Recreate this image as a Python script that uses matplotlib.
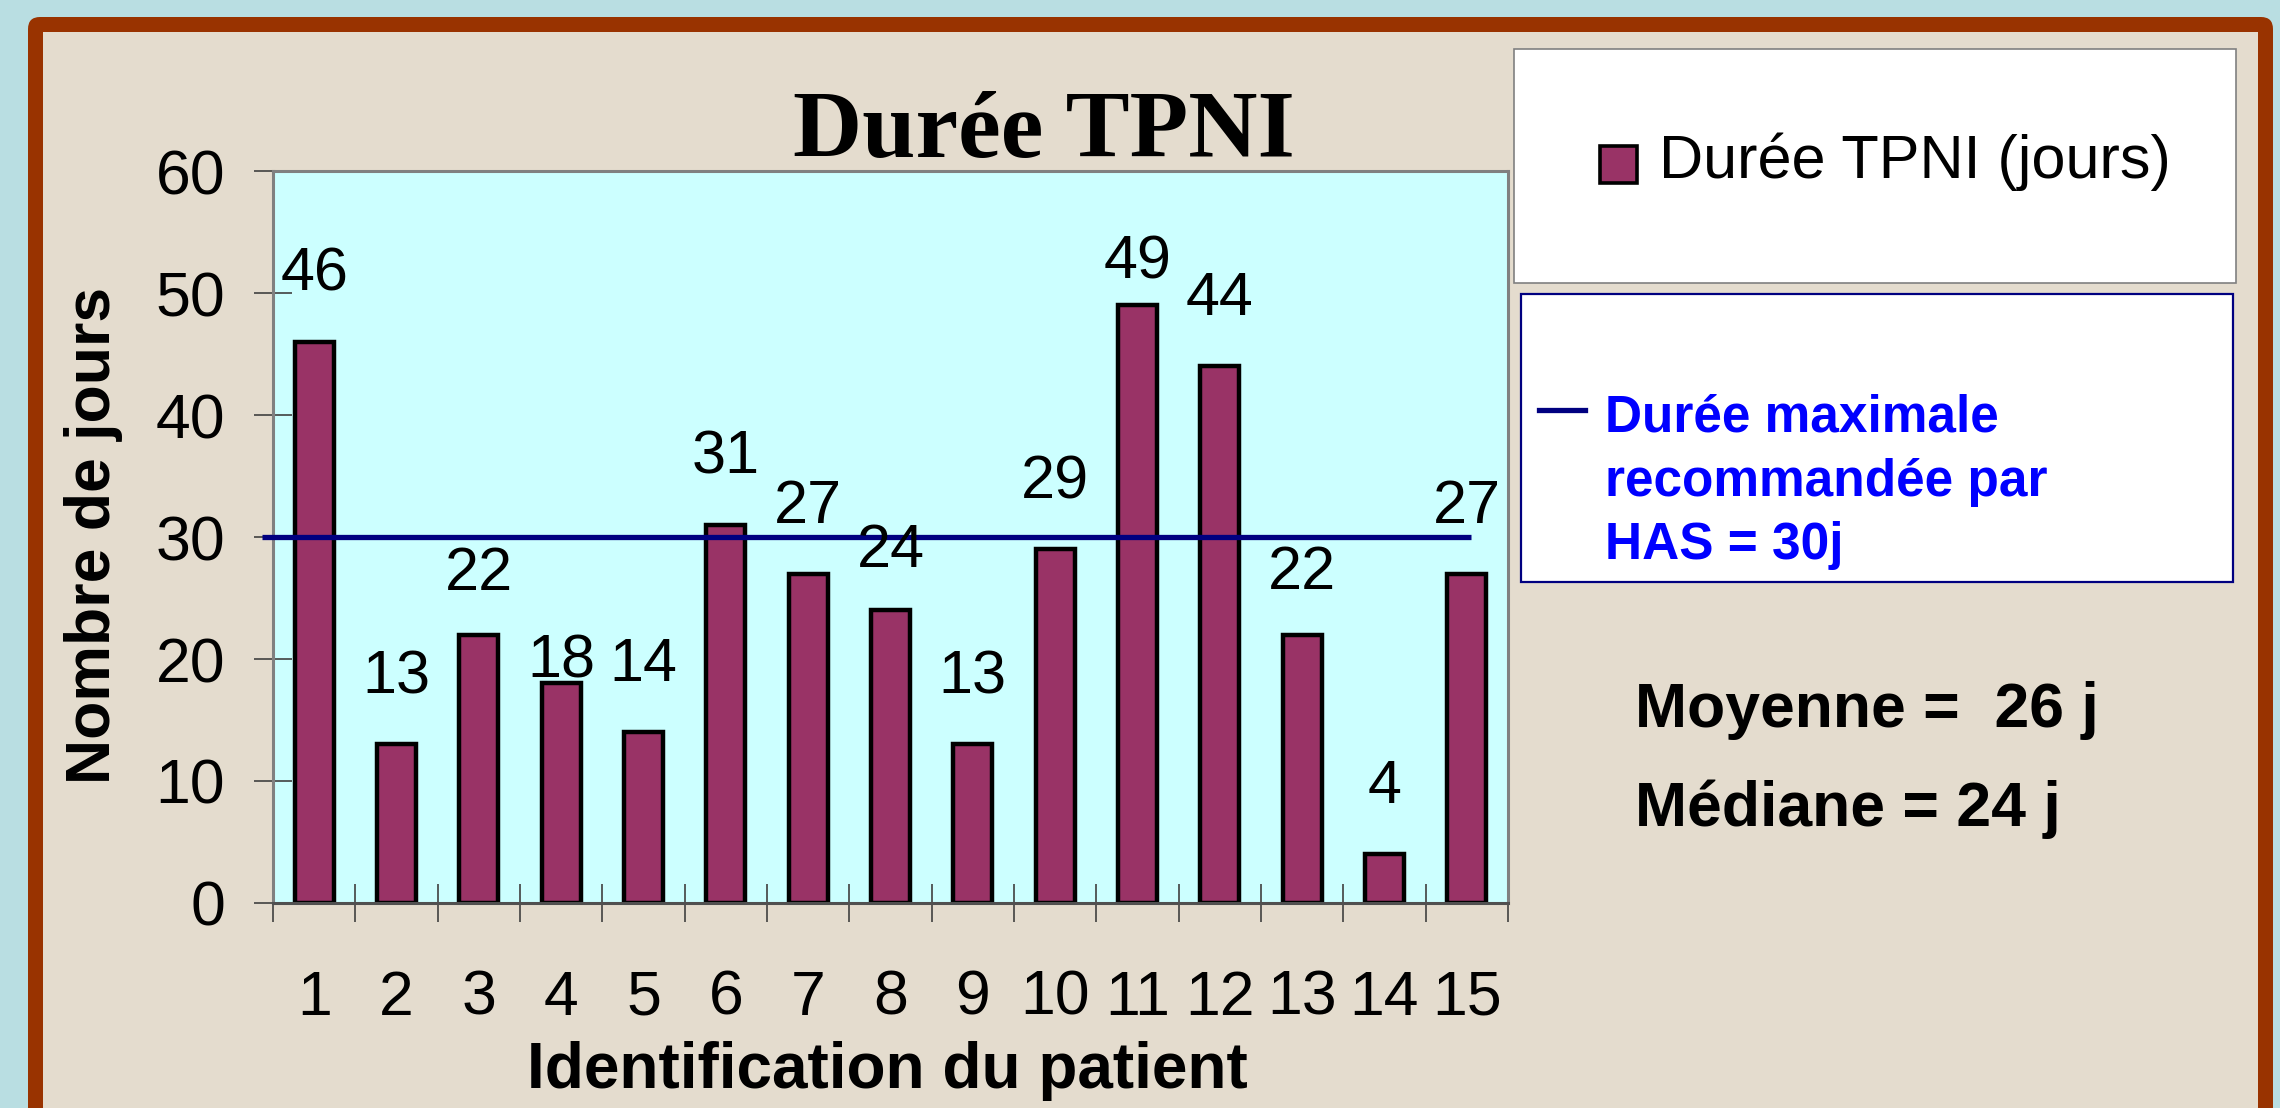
import numpy as np
import matplotlib
matplotlib.use("Agg")
import matplotlib.pyplot as plt
from matplotlib.patches import Rectangle, FancyBboxPatch
from matplotlib.lines import Line2D

plt.rcParams['font.family'] = ['Liberation Sans', 'DejaVu Sans']

# ---- data ----
patients = ["1", "2", "3", "4", "5", "6", "7", "8", "9", "10", "11", "12", "13", "14", "15"]
durations = [46, 13, 22, 18, 14, 31, 27, 24, 13, 29, 49, 44, 22, 4, 27]
has_max = 30
yticks = [0, 10, 20, 30, 40, 50, 60]
title = "Durée TPNI"
series_label = "Durée TPNI (jours)"
line_label_lines = ["Durée maximale", "recommandée par", "HAS = 30j"]
stats_lines = ["Moyenne =  26 j", "Médiane = 24 j"]

# label gaps above bar tops (pixels)
label_gap_px = [51, 51, 45, 6, 51, 51, 51, 43, 51, 51, 27, 51, 46, 51, 51]

W, H = 2280, 1108
fig = plt.figure(figsize=(W / 100, H / 100), dpi=100)
fig.patch.set_facecolor('#B9DEE2')
T = fig.dpi_scale_trans


def inch(x, y):
    return x / 100.0, (H - y) / 100.0


# frame
x0, y0 = inch(28, 1140)
frame = FancyBboxPatch((x0, y0), (2273 - 28) / 100, (1140 - 17) / 100,
                       boxstyle="round,pad=0,rounding_size=0.12",
                       facecolor='#993300', edgecolor='none', transform=T, zorder=-3)
fig.add_artist(frame)
x0, y0 = inch(43, 1140)
inner = Rectangle((x0, y0), (2258 - 43) / 100, (1140 - 32) / 100,
                  facecolor='#E4DCCE', edgecolor='none', transform=T, zorder=-2)
fig.add_artist(inner)

# axes
L, R, Tp, B = 273, 1508, 171, 903
ax = fig.add_axes([L / W, 1 - B / H, (R - L) / W, (B - Tp) / H])
ax.set_facecolor('#CCFFFF')
x = np.arange(len(patients))
bars = ax.bar(x, durations, width=0.47, color='#993366', edgecolor='black', linewidth=3.2, zorder=2)
ax.set_xlim(-0.5, len(patients) - 0.5)
ax.set_ylim(yticks[0], yticks[-1])

for xi, v, gap in zip(x, durations, label_gap_px):
    ax.annotate(str(v), (xi, v), xytext=(0, gap * 0.72), textcoords='offset points',
                ha='center', va='baseline', fontsize=44, color='black', zorder=4,
                annotation_clip=False)

ax.plot([-0.63, len(patients) - 1 + 0.05], [has_max, has_max], color='#000080',
        lw=3.8, solid_capstyle='butt', clip_on=False, zorder=3)

ax.set_yticks(yticks)
ax.tick_params(axis='y', direction='inout', length=28, width=1.2, color='#404040',
               pad=20.5, labelsize=45)
ax.set_xticks(x)
ax.set_xticklabels(patients)
ax.tick_params(axis='x', which='major', length=0, pad=47.5, labelsize=45)
ax.set_xticks(np.arange(-0.5, len(patients), 1), minor=True)
ax.tick_params(axis='x', which='minor', direction='inout', length=28, width=1.2, color='#404040')
for s in ax.spines.values():
    s.set_color('#808080')
    s.set_linewidth(2.2)
ax.spines['bottom'].set_color('#505050')

# title and axis labels
fig.text(1044 / W, 1 - 157 / H, title, ha='center', va='baseline', fontsize=69,
         fontweight='bold', family=['Liberation Serif', 'DejaVu Serif'])
fig.text(887 / W, 1 - 1088 / H, "Identification du patient", ha='center', va='baseline',
         fontsize=46, fontweight='bold')
fig.text(110 / W, 1 - 535 / H, "Nombre de jours", rotation=90, rotation_mode='anchor',
         ha='center', va='baseline', fontsize=45, fontweight='bold')

# legend box 1
x0, y0 = inch(1514, 283)
fig.add_artist(Rectangle((x0, y0), (2236 - 1514) / 100, (283 - 49) / 100, facecolor='white',
                         edgecolor='#808080', linewidth=1.2, transform=T, zorder=1))
x0, y0 = inch(1600, 183)
fig.add_artist(Rectangle((x0, y0), 0.37, 0.37, facecolor='#993366', edgecolor='black',
                         linewidth=2.6, transform=T, zorder=2))
fig.text(1659 / W, 1 - 178 / H, series_label, ha='left', va='baseline', fontsize=44)

# legend box 2
x0, y0 = inch(1521, 582)
fig.add_artist(Rectangle((x0, y0), (2233 - 1521) / 100, (582 - 294) / 100, facecolor='white',
                         edgecolor='#000080', linewidth=1.6, transform=T, zorder=1))
fig.add_artist(Line2D([1539 / W, 1585 / W], [1 - 410 / H, 1 - 410 / H], color='#000080',
                      lw=3.8, transform=fig.transFigure, zorder=2))
for t, yb in zip(line_label_lines, [431, 496, 559]):
    fig.text(1605 / W, 1 - yb / H, t, ha='left', va='baseline', fontsize=37,
             fontweight='bold', color='#0000FF')

# stats
for t, yb in zip(stats_lines, [727, 826]):
    fig.text(1635 / W, 1 - yb / H, t, ha='left', va='baseline', fontsize=45, fontweight='bold')

fig.savefig('out.png', dpi=100, facecolor=fig.get_facecolor())
